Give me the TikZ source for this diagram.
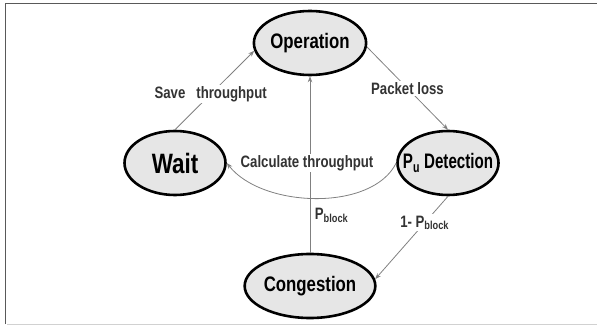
\documentclass[tikz,border=0pt]{standalone}
\usepackage{fontspec}
\usepackage{graphicx}
\setmainfont{Liberation Sans}[FakeStretch=0.8]
\usetikzlibrary{arrows.meta,shapes.geometric}
\definecolor{ellfill}{HTML}{E6E6E6}
\definecolor{edgegray}{HTML}{808080}
\definecolor{labgray}{HTML}{333333}
\tikzset{
  state/.style={ellipse, draw=black, line width=2.6pt, fill=ellfill,
    minimum width=101pt, minimum height=64pt, inner sep=0pt,
    font=\fontsize{21}{24}\selectfont\bfseries},
  conn/.style={draw=edgegray, line width=0.8pt, -{Stealth[length=6pt,width=4.5pt]}},
  lab/.style={font=\fontsize{16.5}{18}\selectfont\bfseries, text=labgray, inner sep=1.5pt},
  labw/.style={lab, fill=white}
}
\begin{document}
\begin{tikzpicture}[x=1pt,y=-1pt]
\useasboundingbox (0,0) rectangle (597,326);
% frame
\draw[draw=black!65, line width=1pt] (5.5,324) -- (5.5,4) -- (597,4);
\draw[draw=black!18, line width=1pt] (7,324.5) -- (597,324.5);
% states
\node[state] (op) at (310,43) {Operation};
\node[state, font=\fontsize{28}{30}\selectfont\bfseries] (wait) at (175,163) {Wait};
\node[state] (pu) at (448,163) {\makebox[60pt][c]{\scalebox{0.9}[1]{P\textsubscript{u} Detection}}};
\node[state] (cong) at (310,286) {Congestion};
% connectors
\draw[conn] (wait.north) -- node[labw, pos=0.45] (lsave) {Save\ \ \ throughput} (op.188);
\draw[conn] (op.-4) -- node[labw, pos=0.5] (lpl) {Packet loss} (pu.north);
\draw[conn] (cong.north) -- node[lab, pos=0.21, right=3pt] (lpb) {P\textsubscript{block}} (op.south);
\draw[conn] (pu.west) .. controls (372,212) and (262,208) .. (wait.east);
\draw[conn] (pu.south) -- node[labw, pos=0.32] (l1pb) {1- P\textsubscript{block}} (cong.6);
\node[labw] (lcalc) at (307,163) {Calculate throughput};
\end{tikzpicture}
\end{document}
